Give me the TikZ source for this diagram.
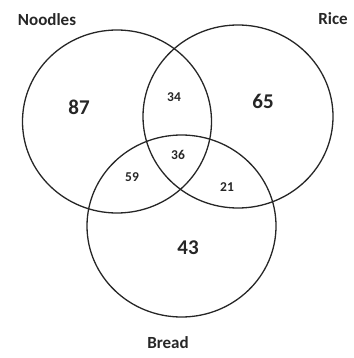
\documentclass[tikz,border=0pt]{standalone}
\usepackage{fontspec}
\setmainfont{Carlito}
\begin{document}
\begin{tikzpicture}[x=1pt,y=-1pt,
  set/.style={draw=black!85,line width=1.3pt},
  title/.style={font=\bfseries\fontsize{17}{20}\selectfont,text=black!85},
  big/.style={font=\bfseries\fontsize{21}{24}\selectfont,text=black!85},
  small/.style={font=\bfseries\fontsize{13.5}{15}\selectfont,text=black!85}]
\useasboundingbox (0,0) rectangle (353,358);
\draw[set] (117,121.5) ellipse [x radius=94.5, y radius=91.5];
\draw[set] (238,116.5) ellipse [x radius=95, y radius=91.5];
\draw[set] (181.5,226) ellipse [x radius=94.5, y radius=91];
\node[title] (noodles) at (47,20) {Noodles};
\node[title] (rice) at (333,19) {Rice};
\node[title] (bread) at (168,343) {Bread};
\node[big] (n87) at (79,107) {87};
\node[big] (n65) at (263,101) {65};
\node[big] (n43) at (188,248) {43};
\node[small] (n34) at (174,97) {34};
\node[small] (n36) at (178,155) {36};
\node[small] (n59) at (132,177) {59};
\node[small] (n21) at (227,187) {21};
\end{tikzpicture}
\end{document}
